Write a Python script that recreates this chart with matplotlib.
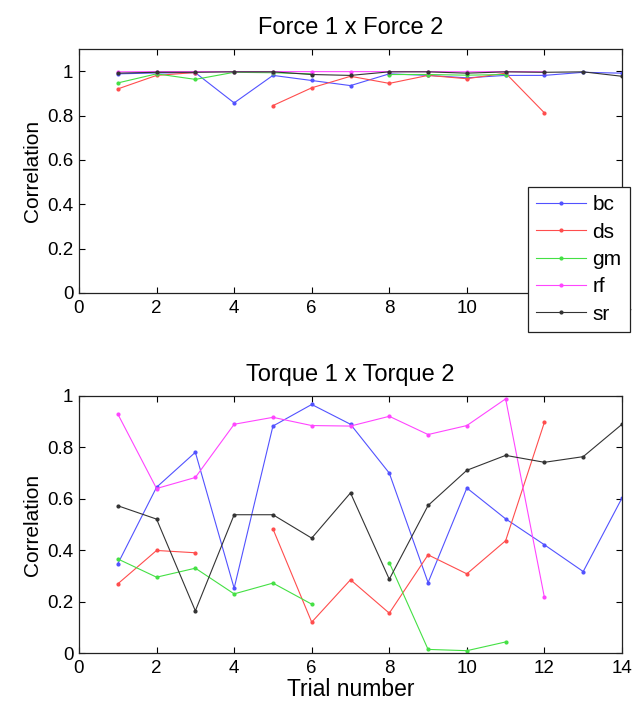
import numpy as np
import matplotlib

matplotlib.use("Agg")
import matplotlib.pyplot as plt
from matplotlib.ticker import FuncFormatter

nan = np.nan

trials = np.arange(1, 15)
muscles = ["bc", "ds", "gm", "rf", "sr"]
colors = ["#5252ff", "#ff4d4d", "#44e044", "#ff45ff", "#333333"]

# Force 1 x Force 2 correlations, one list per muscle (nan = no trial)
force_bc = [0.988, 0.992, 0.993, 0.857, 0.981, 0.958, 0.935, 0.988, 0.981, 0.970, 0.981, 0.981, 0.995, 0.991]
force_ds = [0.920, 0.981, 0.994, nan, 0.845, 0.925, 0.977, 0.945, 0.981, 0.966, 0.991, 0.812, nan, nan]
force_gm = [0.947, 0.988, 0.963, 0.995, 0.993, 0.988, nan, 0.985, 0.985, 0.982, 0.985, nan, nan, nan]
force_rf = [0.997, 0.998, 0.998, 0.998, 0.998, 0.998, 0.998, 0.998, 0.998, 0.997, 0.998, 0.997, nan, nan]
force_sr = [0.991, 0.995, 0.995, 0.997, 0.997, 0.985, 0.981, 0.997, 0.997, 0.991, 0.997, 0.995, 0.997, 0.977]

# Torque 1 x Torque 2 correlations
torque_bc = [0.347, 0.645, 0.781, 0.252, 0.883, 0.967, 0.890, 0.700, 0.274, 0.642, 0.522, 0.421, 0.317, 0.603]
torque_ds = [0.269, 0.399, 0.390, nan, 0.483, 0.120, 0.285, 0.155, 0.382, 0.308, 0.437, 0.898, nan, nan]
torque_gm = [0.366, 0.295, 0.330, 0.230, 0.272, 0.190, nan, 0.352, 0.014, 0.009, 0.043, nan, nan, nan]
torque_rf = [0.930, 0.640, 0.683, 0.890, 0.917, 0.885, 0.883, 0.921, 0.850, 0.885, 0.989, 0.216, nan, nan]
torque_sr = [0.573, 0.521, 0.164, 0.538, 0.538, 0.447, 0.623, 0.287, 0.574, 0.711, 0.769, 0.742, 0.764, 0.890]

force = [force_bc, force_ds, force_gm, force_rf, force_sr]
torque = [torque_bc, torque_ds, torque_gm, torque_rf, torque_sr]

plt.rcParams["font.family"] = ["Liberation Sans", "DejaVu Sans"]

fig = plt.figure(figsize=(6.33, 7.08), dpi=100)
ax_top = fig.add_axes([79 / 633, 1 - 293 / 708, 543 / 633, 244 / 708])
ax_bot = fig.add_axes([79 / 633, 1 - 653 / 708, 543 / 633, 257 / 708])

fmt = FuncFormatter(lambda v, _: f"{v:g}")


def style(ax, title, ymax):
    ax.set_xlim(0, 14)
    ax.set_ylim(0, ymax)
    ax.set_xticks(range(0, 15, 2))
    ax.set_yticks(np.arange(0, 1.01, 0.2))
    ax.yaxis.set_major_formatter(fmt)
    ax.tick_params(direction="in", top=True, right=True, length=4,
                   width=0.8, labelsize=13.5)
    ax.tick_params(axis="x", pad=5)
    ax.tick_params(axis="y", pad=4)
    for sp in ax.spines.values():
        sp.set_linewidth(0.9)
        sp.set_color("#222222")
    ax.set_ylabel("Correlation", fontsize=15, labelpad=4)
    ax.set_title(title, fontsize=17, pad=11)


lines = []
for vals, col, name in zip(force, colors, muscles):
    (ln,) = ax_top.plot(trials, vals, color=col, lw=0.8, marker=".",
                        markersize=4, label=name)
    lines.append(ln)
for vals, col in zip(torque, colors):
    ax_bot.plot(trials, vals, color=col, lw=0.8, marker=".", markersize=4)

style(ax_top, "Force 1 x Force 2", 1.1)
style(ax_bot, "Torque 1 x Torque 2", 1.0)
ax_bot.set_xlabel("Trial number", fontsize=16.5, labelpad=1)

leg = fig.legend(handles=lines, loc="upper left",
                 bbox_to_anchor=(528 / 633, 1 - 187 / 708),
                 fontsize=15, frameon=True, fancybox=False, framealpha=1,
                 edgecolor="#222222", handlelength=2.4, handletextpad=0.3,
                 labelspacing=0.4, borderpad=0.4, borderaxespad=0)
leg.get_frame().set_linewidth(0.9)
leg.set_zorder(10)

fig.savefig("out.png", dpi=100)
